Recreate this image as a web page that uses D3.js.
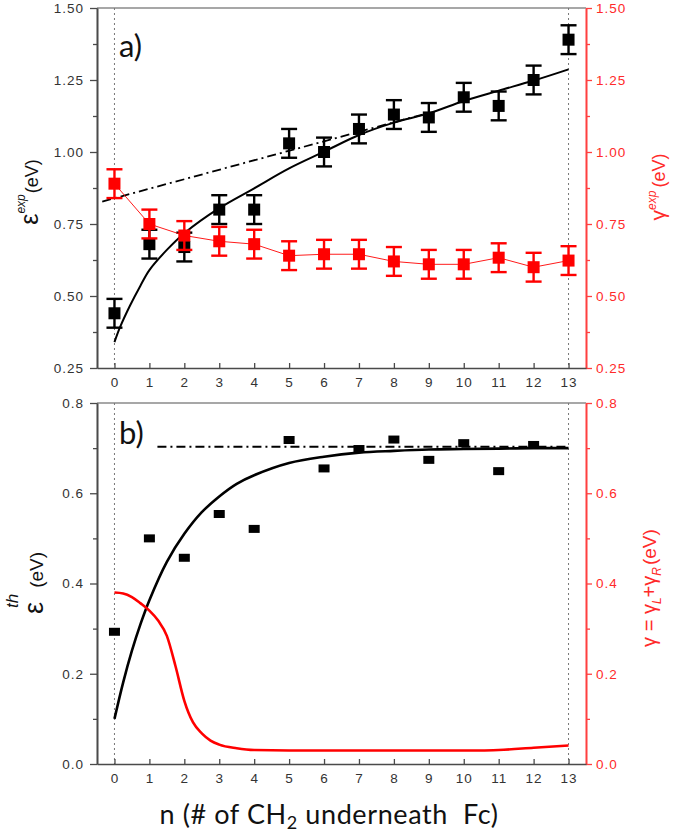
<!DOCTYPE html>
<html><head><meta charset="utf-8">
<script src="https://cdn.jsdelivr.net/npm/d3@7"></script>
<style>body{margin:0;background:#fff}</style>
</head><body><svg id="c" width="675" height="835" xmlns="http://www.w3.org/2000/svg"></svg>
<script>
// ---------- DATA ----------
const nValues = [0,1,2,3,4,5,6,7,8,9,10,11,12,13];
const epsExp = [0.44,0.68,0.67,0.80,0.80,1.03,1.00,1.08,1.13,1.12,1.19,1.16,1.25,1.39];
const epsExpErr = [0.05,0.05,0.05,0.05,0.05,0.05,0.05,0.05,0.05,0.05,0.05,0.05,0.05,0.05];
const gammaExp = [0.89,0.75,0.71,0.69,0.68,0.64,0.645,0.645,0.62,0.61,0.61,0.633,0.60,0.623];
const gammaExpErr = [0.05,0.05,0.05,0.05,0.05,0.05,0.05,0.05,0.05,0.05,0.05,0.05,0.05,0.05];
const fitExpN = [0,0.16,0.45,0.74,1,1.5,2,3,4,5,6,7,8,9,10,11,12,13];
const fitExpV = [0.34,0.392,0.468,0.535,0.59,0.66,0.718,0.805,0.874,0.943,1.001,1.059,1.102,1.134,1.177,1.213,1.248,1.287];
const asymExpN = [-0.35, 9.0];
const asymExpV = [0.828, 1.136];

const nTh = [0,1,2,3,4,5,6,7,8,9,10,11,12];
const epsTh = [0.293,0.50,0.457,0.554,0.521,0.718,0.655,0.698,0.719,0.674,0.711,0.649,0.707];
const fitThN = [0,0.25,0.5,0.75,1,1.5,2,2.5,3,3.5,4,5,6,7,8,9,10,11,12,13];
const fitThV = [0.10,0.181,0.251,0.311,0.363,0.448,0.51,0.558,0.593,0.621,0.64,0.667,0.681,0.69,0.694,0.697,0.698,0.699,0.70,0.70];
const asymThN = [1.23, 13];
const asymThV = [0.703, 0.703];
const gammaThN = [0,0.25,0.5,0.75,1,1.25,1.5,1.75,2,2.25,2.5,2.75,3,3.5,4,5,6,7,8,9,10,10.5,11,12,13];
const gammaThV = [0.38,0.378,0.37,0.356,0.34,0.318,0.284,0.216,0.14,0.092,0.068,0.052,0.043,0.035,0.031,0.03,0.03,0.03,0.03,0.03,0.03,0.03,0.031,0.036,0.041];

const xTicks = [0,1,2,3,4,5,6,7,8,9,10,11,12,13];
const yTicksTop = [0.25,0.50,0.75,1.00,1.25,1.50];
const yMinorTop = [0.375,0.625,0.875,1.125,1.375];
const yTicksBot = [0.0,0.2,0.4,0.6,0.8];
const yMinorBot = [0.1,0.3,0.5,0.7];

// ---------- LAYOUT ----------
const svg = d3.select("#c");
const L = 97, R = 586;
const PA = {t:8, b:368}, PB = {t:403, b:764};
const RED = "#ff0000", RED_T = "#ff2a2a", AX = "#4a4a4a";
const FONT = "'Liberation Sans', Arial, sans-serif";

const x = d3.scaleLinear().domain([-0.5, 13.5]).range([L, R]);
const yA = d3.scaleLinear().domain([0.25, 1.5]).range([PA.b, PA.t]);
const yB = d3.scaleLinear().domain([0, 0.8]).range([PB.b, PB.t]);

function styleAxis(g, color, textColor) {
  g.select(".domain").attr("stroke", color).attr("stroke-width", 1.6);
  g.selectAll(".tick line").attr("stroke", color).attr("stroke-width", 1.3);
  g.selectAll(".tick text").attr("fill", textColor).attr("font-family", FONT)
    .attr("font-size", 13.5).attr("letter-spacing", "1px");
}

function panel(y, P, major, minor, fmt) {
  const g = svg.append("g");
  g.append("line").attr("x1", L).attr("x2", R).attr("y1", P.t).attr("y2", P.t)
    .attr("stroke", "#8a8a8a").attr("stroke-width", 1.5);
  [0, 13].forEach(n => g.append("line").attr("x1", x(n)).attr("x2", x(n))
    .attr("y1", P.t).attr("y2", P.b).attr("stroke", "#777").attr("stroke-width", 1)
    .attr("stroke-dasharray", "2,3"));
  const gm = g.append("g").attr("transform", `translate(${L},0)`)
    .call(d3.axisLeft(y).tickValues(minor).tickFormat("").tickSizeInner(4).tickSizeOuter(0));
  styleAxis(gm, AX, "#333");
  const gl = g.append("g").attr("transform", `translate(${L},0)`)
    .call(d3.axisLeft(y).tickValues(major).tickFormat(fmt).tickSizeInner(7).tickSizeOuter(0).tickPadding(6));
  styleAxis(gl, AX, "#333");
  const rm = g.append("g").attr("transform", `translate(${R},0)`)
    .call(d3.axisRight(y).tickValues(minor).tickFormat("").tickSizeInner(4).tickSizeOuter(0));
  styleAxis(rm, "#ff4040", RED_T);
  const rl = g.append("g").attr("transform", `translate(${R},0)`)
    .call(d3.axisRight(y).tickValues(major).tickFormat(fmt).tickSizeInner(6).tickSizeOuter(0).tickPadding(4));
  styleAxis(rl, "#ff4040", RED_T);
  const xb = g.append("g").attr("transform", `translate(0,${P.b})`)
    .call(d3.axisBottom(x).tickValues(xTicks).tickFormat(d3.format("d")).tickSizeInner(-5).tickSizeOuter(0).tickPadding(9));
  styleAxis(xb, AX, "#333");
  return g;
}

panel(yA, PA, yTicksTop, yMinorTop, d3.format(".2f"));
panel(yB, PB, yTicksBot, yMinorBot, d3.format(".1f"));

const line = (y) => d3.line().x(d => x(d[0])).y(d => y(d[1])).curve(d3.curveMonotoneX);
const smooth = (y) => d3.line().x(d => x(d[0])).y(d => y(d[1])).curve(d3.curveCatmullRom.alpha(0.5));

// ----- Panel a -----
const ga = svg.append("g");
ga.append("path").datum(fitExpN.map((n, i) => [n, fitExpV[i]]))
  .attr("d", smooth(yA)).attr("fill", "none").attr("stroke", "#000").attr("stroke-width", 2);
ga.append("path").datum(asymExpN.map((n, i) => [n, asymExpV[i]]))
  .attr("d", line(yA)).attr("fill", "none").attr("stroke", "#000").attr("stroke-width", 1.8)
  .attr("stroke-dasharray", "9,4,2,4");

function errorSeries(g, vals, errs, color, size) {
  const s = g.append("g");
  nValues.forEach((n, i) => {
    const cx = x(n), v = vals[i], e = errs[i];
    const y1 = yA(v + e), y2 = yA(v - e);
    s.append("line").attr("x1", cx).attr("x2", cx).attr("y1", y1).attr("y2", y2)
      .attr("stroke", color).attr("stroke-width", 2.4);
    [y1, y2].forEach(yy => s.append("line").attr("x1", cx - 8).attr("x2", cx + 8)
      .attr("y1", yy).attr("y2", yy).attr("stroke", color).attr("stroke-width", 2.4));
    s.append("rect").attr("x", cx - size / 2).attr("y", yA(v) - size / 2)
      .attr("width", size).attr("height", size).attr("fill", color);
  });
}
errorSeries(ga, epsExp, epsExpErr, "#000", 12);
ga.append("path").datum(nValues.map((n, i) => [n, gammaExp[i]]))
  .attr("d", d3.line().x(d => x(d[0])).y(d => yA(d[1])))
  .attr("fill", "none").attr("stroke", RED).attr("stroke-width", 0.9);
errorSeries(ga, gammaExp, gammaExpErr, RED, 12);

// ----- Panel b -----
const gb = svg.append("g");
gb.append("path").datum(asymThN.map((n, i) => [n, asymThV[i]]))
  .attr("d", line(yB)).attr("fill", "none").attr("stroke", "#000").attr("stroke-width", 1.8)
  .attr("stroke-dasharray", "9,4,2,4");
gb.append("path").datum(fitThN.map((n, i) => [n, fitThV[i]]))
  .attr("d", smooth(yB)).attr("fill", "none").attr("stroke", "#000").attr("stroke-width", 2.6);
gb.append("path").datum(gammaThN.map((n, i) => [n, gammaThV[i]]))
  .attr("d", line(yB)).attr("fill", "none").attr("stroke", RED).attr("stroke-width", 2.6);
gb.selectAll("rect.p").data(nTh).enter().append("rect")
  .attr("x", n => x(n) - 5.5).attr("y", (n, i) => yB(epsTh[i]) - 4)
  .attr("width", 11).attr("height", 8).attr("fill", "#000");

// ----- Text -----
svg.append("text").attr("x", 119).attr("y", 57).attr("font-family", "Lato, 'Open Sans', sans-serif")
  .attr("font-size", 31).attr("fill", "#111").text("a)");
svg.append("text").attr("x", 119).attr("y", 444).attr("font-family", "Lato, 'Open Sans', sans-serif")
  .attr("font-size", 31).attr("fill", "#111").text("b)");

const xl = svg.append("text").attr("x", 329).attr("y", 824).attr("text-anchor", "middle")
  .attr("font-family", "Lato, 'Open Sans', sans-serif").attr("font-size", 27).attr("fill", "#111")
  .attr("letter-spacing", "0.6px").attr("xml:space", "preserve");
xl.append("tspan").text("n (# of CH");
xl.append("tspan").attr("font-size", 18).attr("dy", 5).text("2");
xl.append("tspan").attr("dy", -5).text(" underneath\u00a0 Fc)");

const l1 = svg.append("text").attr("transform", "translate(38,192) rotate(-90)")
  .attr("text-anchor", "middle").attr("font-family", FONT).attr("fill", "#111").attr("font-size", 18);
l1.append("tspan").attr("font-size", 25).text("ε");
l1.append("tspan").attr("font-size", 12).attr("font-style", "italic").attr("dy", -13).text("exp");
l1.append("tspan").attr("dy", 13).attr("dx", 1).text("(eV)");

const l2 = svg.append("text").attr("transform", "translate(43,583) rotate(-90)")
  .attr("text-anchor", "middle").attr("font-family", FONT).attr("fill", "#111").attr("font-size", 19);
l2.append("tspan").attr("font-size", 27).text("ε");
l2.append("tspan").attr("font-size", 17).attr("font-style", "italic").attr("dy", -25).attr("dx", -6).text("th");
l2.append("tspan").attr("dy", 25).attr("dx", 6).text("(eV)");

const r1 = svg.append("text").attr("transform", "translate(665,187) rotate(-90)")
  .attr("text-anchor", "middle").attr("font-family", FONT).attr("fill", RED_T).attr("font-size", 18);
r1.append("tspan").attr("font-size", 21).text("γ");
r1.append("tspan").attr("font-size", 12).attr("font-style", "italic").attr("dy", -9).text("exp");
r1.append("tspan").attr("dy", 9).attr("dx", 3).text("(eV)");

const r2 = svg.append("text").attr("transform", "translate(656,588) rotate(-90)")
  .attr("text-anchor", "middle").attr("font-family", FONT).attr("fill", RED_T).attr("font-size", 19);
r2.append("tspan").attr("font-size", 20).text("γ = γ");
r2.append("tspan").attr("font-size", 12).attr("font-style", "italic").attr("dy", 5).text("L");
r2.append("tspan").attr("font-size", 20).attr("dy", -5).text("+γ");
r2.append("tspan").attr("font-size", 12).attr("font-style", "italic").attr("dy", 5).text("R");
r2.append("tspan").attr("dy", -5).attr("dx", 2).text("(eV)");
</script>
</body></html>
